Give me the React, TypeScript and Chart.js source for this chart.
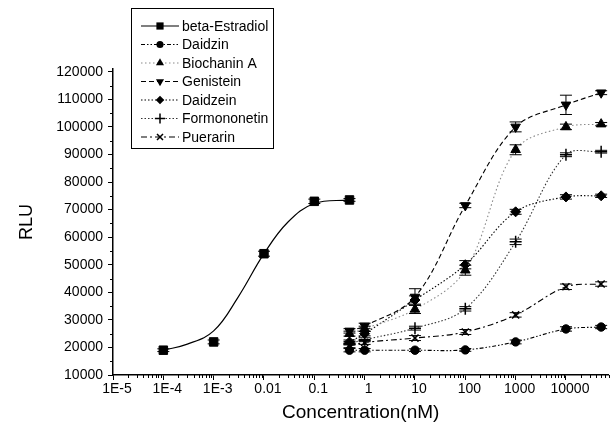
import React, { useEffect, useRef } from 'react';
import { Chart, registerables } from 'chart.js';

Chart.register(...registerables);

const FONT = "'Liberation Sans', Arial, Helvetica, sans-serif";

// ---- axes ----
const X_TICKS = [1e-5, 1e-4, 1e-3, 0.01, 0.1, 1, 10, 100, 1000, 10000];
const X_TICK_LABELS = ['1E-5', '1E-4', '1E-3', '0.01', '0.1', '1', '10', '100', '1000', '10000'];
const X_MIN = 1e-5;
const X_MAX = 7e4;
const Y_TICKS = [10000, 20000, 30000, 40000, 50000, 60000, 70000, 80000, 90000, 100000, 110000, 120000];
const Y_MIN = 10000;
const Y_MAX = 121000;

// ---- beta-Estradiol ----
const E2_CONC = [1e-4, 1e-3, 0.01, 0.1, 0.5];
const E2_RLU = [19000, 22000, 54000, 73000, 73500];
const E2_ERR = [500, 700, 900, 800, 500];
// fitted curve
const E2_FIT_CONC = [1e-4, 3e-4, 1e-3, 3e-3, 0.01, 0.03, 0.1, 0.5];
const E2_FIT_RLU = [19000, 21200, 26000, 38000, 54000, 65500, 72200, 73500];

// ---- isoflavones ----
const ISO_CONC = [0.5, 1, 10, 100, 1000, 10000, 50000];
const DAIDZIN = [19000, 19000, 19000, 19100, 22000, 26700, 27400];
const DAIDZIN_ERR = [600, 600, 500, 500, 700, 800, 600];
const BIOCHANIN = [25000, 26800, 33800, 48000, 91700, 100000, 101000];
const BIOCHANIN_ERR = [900, 900, 1500, 1800, 1800, 1000, 600];
const GENISTEIN = [26000, 27800, 38300, 71500, 100000, 108000, 112400];
const GENISTEIN_ERR = [800, 1000, 3000, 800, 1800, 3500, 700];
const DAIDZEIN = [22000, 25000, 37200, 50000, 69200, 74600, 75000];
const DAIDZEIN_ERR = [700, 800, 1500, 1500, 900, 800, 600];
const FORMONONETIN = [21500, 22800, 27000, 34000, 58300, 89900, 91000];
const FORMONONETIN_ERR = [600, 700, 700, 800, 1000, 700, 500];
const PUERARIN = [20500, 21800, 23400, 25600, 31800, 42000, 43000];
const PUERARIN_ERR = [600, 700, 900, 900, 800, 1000, 800];

type Series = {
  label: string;
  conc: number[];
  rlu: number[];
  err: number[];
  style: string;
  radius: number;
  rotation: number;
  dash: number[];
  color: string;
  lineWidth: number;
};

const SERIES: Series[] = [
  { label: 'beta-Estradiol', conc: E2_CONC, rlu: E2_RLU, err: E2_ERR, style: 'rect', radius: 6, rotation: 0, dash: [], color: '#000', lineWidth: 1.2 },
  { label: 'Daidzin', conc: ISO_CONC, rlu: DAIDZIN, err: DAIDZIN_ERR, style: 'circle', radius: 4.2, rotation: 0, dash: [4, 2, 1.5, 2, 1.5, 2], color: '#000', lineWidth: 1.1 },
  { label: 'Biochanin A', conc: ISO_CONC, rlu: BIOCHANIN, err: BIOCHANIN_ERR, style: 'triangle', radius: 5.5, rotation: 0, dash: [1.5, 2.5], color: '#8a8a8a', lineWidth: 1.1 },
  { label: 'Genistein', conc: ISO_CONC, rlu: GENISTEIN, err: GENISTEIN_ERR, style: 'triangle', radius: 5.5, rotation: 180, dash: [5, 3], color: '#000', lineWidth: 1.1 },
  { label: 'Daidzein', conc: ISO_CONC, rlu: DAIDZEIN, err: DAIDZEIN_ERR, style: 'rectRot', radius: 5, rotation: 0, dash: [1.5, 2], color: '#000', lineWidth: 1.1 },
  { label: 'Formononetin', conc: ISO_CONC, rlu: FORMONONETIN, err: FORMONONETIN_ERR, style: 'cross', radius: 6, rotation: 0, dash: [1.5, 2], color: '#333', lineWidth: 1.1 },
  { label: 'Puerarin', conc: ISO_CONC, rlu: PUERARIN, err: PUERARIN_ERR, style: 'crossRot', radius: 5, rotation: 0, dash: [6, 3, 2, 3], color: '#000', lineWidth: 1.1 },
];

function drawMarker(ctx: CanvasRenderingContext2D, style: string, x: number, y: number, r: number, rotation: number) {
  ctx.beginPath();
  if (style === 'rect') {
    const s = r * Math.SQRT1_2;
    ctx.rect(x - s, y - s, 2 * s, 2 * s);
    ctx.fill();
  } else if (style === 'circle') {
    ctx.arc(x, y, r, 0, Math.PI * 2);
    ctx.fill();
  } else if (style === 'triangle') {
    const d = rotation === 180 ? -1 : 1;
    ctx.moveTo(x, y - d * r);
    ctx.lineTo(x + r * 0.866, y + d * r * 0.5);
    ctx.lineTo(x - r * 0.866, y + d * r * 0.5);
    ctx.closePath();
    ctx.fill();
  } else if (style === 'rectRot') {
    ctx.moveTo(x, y - r);
    ctx.lineTo(x + r, y);
    ctx.lineTo(x, y + r);
    ctx.lineTo(x - r, y);
    ctx.closePath();
    ctx.fill();
  } else if (style === 'cross') {
    ctx.moveTo(x - r, y);
    ctx.lineTo(x + r, y);
    ctx.moveTo(x, y - r);
    ctx.lineTo(x, y + r);
    ctx.stroke();
  } else if (style === 'crossRot') {
    const c = r * Math.SQRT1_2;
    ctx.moveTo(x - c, y - c);
    ctx.lineTo(x + c, y + c);
    ctx.moveTo(x + c, y - c);
    ctx.lineTo(x - c, y + c);
    ctx.stroke();
  }
}

const minorTicksPlugin = {
  id: 'minorTicks',
  afterDraw(chart: any) {
    const { ctx } = chart;
    const xs = chart.scales.x;
    const ys = chart.scales.y;
    ctx.save();
    ctx.strokeStyle = '#000';
    ctx.lineWidth = 1;
    ctx.beginPath();
    for (let e = -5; e <= 4; e++) {
      for (let k = 2; k <= 9; k++) {
        const v = k * Math.pow(10, e);
        if (v > xs.max) break;
        const px = Math.round(xs.getPixelForValue(v)) + 0.5;
        ctx.moveTo(px, xs.top);
        ctx.lineTo(px, xs.top + 3);
      }
    }
    for (let i = 0; i < Y_TICKS.length - 1; i++) {
      const v = (Y_TICKS[i] + Y_TICKS[i + 1]) / 2;
      const py = Math.round(ys.getPixelForValue(v)) + 0.5;
      ctx.moveTo(ys.right, py);
      ctx.lineTo(ys.right - 3, py);
    }
    ctx.stroke();
    ctx.restore();
  },
};

const errorBarsPlugin = {
  id: 'errorBars',
  afterDatasetsDraw(chart: any) {
    const { ctx } = chart;
    const ys = chart.scales.y;
    ctx.save();
    ctx.strokeStyle = '#000';
    ctx.lineWidth = 1;
    chart.data.datasets.forEach((ds: any, i: number) => {
      if (!ds.err) return;
      const meta = chart.getDatasetMeta(i);
      meta.data.forEach((el: any, j: number) => {
        const v = ds.data[j].y;
        const e = ds.err[j];
        const top = ys.getPixelForValue(v + e);
        const bot = ys.getPixelForValue(v - e);
        const px = el.x;
        ctx.beginPath();
        ctx.moveTo(px, top);
        ctx.lineTo(px, bot);
        ctx.moveTo(px - 6, top);
        ctx.lineTo(px + 6, top);
        ctx.moveTo(px - 6, bot);
        ctx.lineTo(px + 6, bot);
        ctx.stroke();
      });
    });
    ctx.restore();
  },
};

const legendPlugin = {
  id: 'boxLegend',
  afterDraw(chart: any) {
    const { ctx } = chart;
    ctx.save();
    ctx.strokeStyle = '#000';
    ctx.lineWidth = 1;
    ctx.strokeRect(131.5, 8.5, 142, 140);
    ctx.font = `14px ${FONT}`;
    ctx.textBaseline = 'middle';
    ctx.textAlign = 'left';
    SERIES.forEach((s, i) => {
      const y = 26 + i * 18.5;
      ctx.strokeStyle = s.color;
      ctx.lineWidth = s.lineWidth;
      ctx.setLineDash(s.dash);
      ctx.beginPath();
      ctx.moveTo(141, y);
      ctx.lineTo(179, y);
      ctx.stroke();
      ctx.setLineDash([]);
      ctx.fillStyle = '#000';
      ctx.strokeStyle = '#000';
      ctx.lineWidth = 1.5;
      drawMarker(ctx, s.style, 160, y, s.radius * 0.85, s.rotation);
      ctx.fillStyle = '#000';
      ctx.fillText(s.label, 182, y + 1);
    });
    ctx.restore();
  },
};

export default function App() {
  const ref = useRef<HTMLCanvasElement>(null);

  useEffect(() => {
    const datasets: any[] = [];
    // beta-Estradiol fitted curve
    datasets.push({
      label: 'beta-Estradiol fit',
      data: E2_FIT_CONC.map((x, i) => ({ x, y: E2_FIT_RLU[i] })),
      showLine: true,
      borderColor: '#000',
      borderWidth: 1.2,
      pointRadius: 0,
      tension: 0.4,
    });
    SERIES.forEach((s, idx) => {
      datasets.push({
        label: s.label,
        data: s.conc.map((x, i) => ({ x, y: s.rlu[i] })),
        err: s.err,
        showLine: idx !== 0,
        borderColor: s.color,
        borderWidth: s.lineWidth,
        borderDash: s.dash,
        tension: 0.35,
        pointStyle: s.style,
        pointRotation: s.rotation,
        pointRadius: s.radius,
        pointBackgroundColor: '#000',
        pointBorderColor: '#000',
        pointBorderWidth: s.style === 'cross' || s.style === 'crossRot' ? 1.5 : 1,
      });
    });

    const chart = new Chart(ref.current as HTMLCanvasElement, {
      type: 'scatter',
      data: { datasets },
      options: {
        animation: false,
        responsive: false,
        maintainAspectRatio: false,
        layout: { padding: { top: 69, right: 1, left: 0, bottom: 0 } },
        plugins: { legend: { display: false }, tooltip: { enabled: false } },
        scales: {
          x: {
            type: 'logarithmic',
            min: X_MIN,
            max: X_MAX,
            afterBuildTicks: (s: any) => {
              s.ticks = X_TICKS.map((v) => ({ value: v }));
            },
            afterFit: (s: any) => {
              s.height = 57;
            },
            grid: { drawOnChartArea: false, drawTicks: true, tickLength: 5, color: '#000', tickWidth: 1 },
            border: { color: '#000', width: 1.5 },
            ticks: {
              autoSkip: false,
              maxRotation: 0,
              minRotation: 0,
              padding: 1,
              labelOffset: 4,
              color: '#000',
              font: { family: FONT, size: 14 },
              callback: (_v: any, i: number) => X_TICK_LABELS[i],
            },
            title: {
              display: true,
              text: 'Concentration(nM)',
              color: '#000',
              font: { family: FONT, size: 19 },
              padding: { top: 0, bottom: 8 },
            },
          },
          y: {
            type: 'linear',
            min: Y_MIN,
            max: Y_MAX,
            afterBuildTicks: (s: any) => {
              s.ticks = Y_TICKS.map((v) => ({ value: v }));
            },
            afterFit: (s: any) => {
              s.width = 113;
            },
            grid: { drawOnChartArea: false, drawTicks: true, tickLength: 5, color: '#000', tickWidth: 1 },
            border: { color: '#000', width: 1.5 },
            ticks: {
              padding: 5,
              color: '#000',
              font: { family: FONT, size: 14 },
              callback: (v: any) => String(v),
            },
            title: {
              display: true,
              text: 'RLU',
              color: '#000',
              font: { family: FONT, size: 18 },
              padding: { top: 16, bottom: 0 },
            },
          },
        },
      } as any,
      plugins: [minorTicksPlugin, errorBarsPlugin, legendPlugin],
    });
    return () => chart.destroy();
  }, []);

  return (
    <div style={{ position: 'absolute', left: 0, top: 0, width: 616, height: 432, background: '#fff' }}>
      <canvas ref={ref} width={616} height={432} style={{ display: 'block', width: 616, height: 432 }} />
    </div>
  );
}
